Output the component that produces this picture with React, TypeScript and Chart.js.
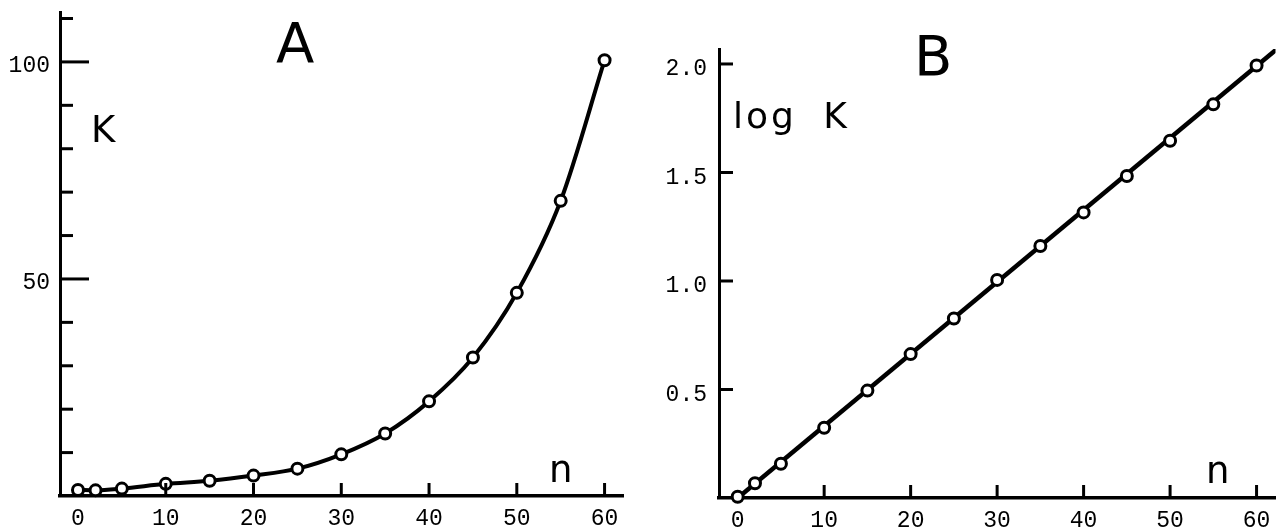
import React, { useEffect, useRef } from 'react';
import { Chart, registerables } from 'chart.js';

Chart.register(...registerables);

// ---- data ----
const nValues = [0, 2, 5, 10, 15, 20, 25, 30, 35, 40, 45, 50, 55, 60];
const kValues = [1.4, 1.3, 1.7, 2.8, 3.5, 4.7, 6.3, 9.6, 14.4, 21.8, 31.9, 46.8, 68.0, 100.4];
const logKValues = [0.006, 0.068, 0.158, 0.324, 0.495, 0.663, 0.827, 1.005, 1.161, 1.316, 1.484, 1.646, 1.814, 1.993];
const fitLineN = [0, 66];
const fitLineLogK = [0, 2.19];

// ---- tick values ----
const nTickLabels = [0, 10, 20, 30, 40, 50, 60];
const nTickMarks = [10, 20, 30, 40, 50, 60];
const kTickMarks = [10, 20, 30, 40, 50, 60, 70, 80, 90, 100, 110];
const kTickLabels = [50, 100];
const logKTickLabels = [0.5, 1.0, 1.5, 2.0];

const monoFont = '"Liberation Mono", monospace';

const inwardTicks = {
  id: 'inwardTicks',
  afterDraw(chart: any, _args: any, opts: any) {
    const { ctx, chartArea, scales } = chart;
    ctx.save();
    ctx.strokeStyle = '#000';
    ctx.lineWidth = 3;
    ctx.lineCap = 'butt';
    (opts.y || []).forEach((t: any) => {
      const y = scales.y.getPixelForValue(t.value);
      ctx.beginPath();
      ctx.moveTo(chartArea.left, y);
      ctx.lineTo(chartArea.left + t.len, y);
      ctx.stroke();
    });
    (opts.x || []).forEach((t: any) => {
      const x = scales.x.getPixelForValue(t.value);
      ctx.beginPath();
      ctx.moveTo(x, chartArea.bottom);
      ctx.lineTo(x, chartArea.bottom - t.len);
      ctx.stroke();
    });
    ctx.restore();
  },
};

function fixedAxis(size: number, horizontal: boolean) {
  return (scale: any) => {
    if (horizontal) scale.height = size;
    else scale.width = size;
    scale.paddingTop = 0;
    scale.paddingBottom = 0;
    scale.paddingLeft = 0;
    scale.paddingRight = 0;
  };
}

function makeXScale(min: number, max: number, height: number) {
  return {
    type: 'linear' as const,
    min,
    max,
    grid: { display: false, drawTicks: false },
    border: { display: true, color: '#000', width: 3.5 },
    afterBuildTicks: (scale: any) => {
      scale.ticks = nTickLabels.map((v) => ({ value: v }));
    },
    afterFit: fixedAxis(height, true),
    ticks: {
      color: '#000',
      padding: 9,
      maxRotation: 0,
      autoSkip: false,
      font: { family: monoFont, size: 23 },
      callback: (v: any) => String(v),
    },
  };
}

function PanelA() {
  const ref = useRef<HTMLCanvasElement | null>(null);
  useEffect(() => {
    const chart = new Chart(ref.current as HTMLCanvasElement, {
      type: 'scatter',
      data: {
        datasets: [
          {
            data: nValues.map((n, i) => ({ x: n, y: kValues[i] })),
            showLine: true,
            borderColor: '#000',
            borderWidth: 4,
            cubicInterpolationMode: 'monotone',
            pointRadius: 5.5,
            pointBorderWidth: 3,
            pointBackgroundColor: '#fff',
            pointBorderColor: '#000',
            clip: false,
          } as any,
        ],
      },
      plugins: [inwardTicks],
      options: {
        responsive: false,
        animation: false,
        layout: { padding: { top: 12, right: 17, left: 0, bottom: 0 } },
        plugins: {
          legend: { display: false },
          tooltip: { enabled: false },
          inwardTicks: {
            y: kTickMarks.map((v) => ({ value: v, len: kTickLabels.includes(v) ? 29 : 13 })),
            x: nTickMarks.map((v) => ({ value: v, len: 13 })),
          },
        } as any,
        scales: {
          x: makeXScale(-2.05, 62.1, 33),
          y: {
            type: 'linear',
            min: 0,
            max: 111.5,
            grid: { display: false, drawTicks: false },
            border: { display: true, color: '#000', width: 3 },
            afterBuildTicks: (scale: any) => {
              scale.ticks = kTickLabels.map((v) => ({ value: v }));
            },
            afterFit: fixedAxis(60, false),
            ticks: {
              color: '#000',
              padding: 10,
              labelOffset: 4,
              font: { family: monoFont, size: 23 },
              callback: (v: any) => String(v),
            },
          } as any,
        },
      },
    });
    return () => chart.destroy();
  }, []);
  return (
    <canvas
      ref={ref}
      width={640}
      height={529}
      style={{ position: 'absolute', left: 0, top: 0, width: 640, height: 529 }}
    />
  );
}

function PanelB() {
  const ref = useRef<HTMLCanvasElement | null>(null);
  useEffect(() => {
    const chart = new Chart(ref.current as HTMLCanvasElement, {
      type: 'scatter',
      data: {
        datasets: [
          {
            data: nValues.map((n, i) => ({ x: n, y: logKValues[i] })),
            showLine: false,
            pointRadius: 5.5,
            pointBorderWidth: 3,
            pointBackgroundColor: '#fff',
            pointBorderColor: '#000',
            clip: false,
            order: 0,
          } as any,
          {
            data: fitLineN.map((n, i) => ({ x: n, y: fitLineLogK[i] })),
            showLine: true,
            borderColor: '#000',
            borderWidth: 4.5,
            pointRadius: 0,
            order: 1,
          } as any,
        ],
      },
      plugins: [inwardTicks],
      options: {
        responsive: false,
        animation: false,
        layout: { padding: { top: 49, right: 0, left: 0, bottom: 0 } },
        plugins: {
          legend: { display: false },
          tooltip: { enabled: false },
          inwardTicks: {
            y: logKTickLabels.map((v) => ({ value: v, len: 14 })),
            x: nTickMarks.map((v) => ({ value: v, len: 13 })),
          },
        } as any,
        scales: {
          x: makeXScale(-2.16, 62.19, 31),
          y: {
            type: 'linear',
            min: 0,
            max: 2.069,
            grid: { display: false, drawTicks: false },
            border: { display: true, color: '#000', width: 3 },
            afterBuildTicks: (scale: any) => {
              scale.ticks = logKTickLabels.map((v) => ({ value: v }));
            },
            afterFit: fixedAxis(79, false),
            ticks: {
              color: '#000',
              padding: 12,
              labelOffset: 5,
              font: { family: monoFont, size: 23 },
              callback: (v: any) => Number(v).toFixed(1),
            },
          } as any,
        },
      },
    });
    return () => chart.destroy();
  }, []);
  return (
    <canvas
      ref={ref}
      width={644}
      height={529}
      style={{ position: 'absolute', left: 640, top: 0, width: 644, height: 529 }}
    />
  );
}

const textBase: React.CSSProperties = {
  position: 'absolute',
  fontFamily: '"DejaVu Sans", sans-serif',
  lineHeight: 1,
  color: '#000',
  whiteSpace: 'pre',
};

export default function App() {
  return (
    <div
      style={{
        position: 'fixed',
        left: 0,
        top: 0,
        width: 1284,
        height: 529,
        background: '#fff',
        overflow: 'hidden',
      }}
    >
      <PanelA />
      <PanelB />
      <div style={{ ...textBase, left: 276, top: 15, fontSize: 56 }}>A</div>
      <div style={{ ...textBase, left: 914, top: 28, fontSize: 56 }}>B</div>
      <div style={{ ...textBase, left: 91, top: 111, fontSize: 37 }}>K</div>
      <div style={{ ...textBase, left: 733, top: 98, fontSize: 36, letterSpacing: 3, wordSpacing: 12 }}>log K</div>
      <div style={{ ...textBase, left: 549, top: 451, fontSize: 37 }}>n</div>
      <div style={{ ...textBase, left: 1206, top: 452, fontSize: 37 }}>n</div>
    </div>
  );
}
